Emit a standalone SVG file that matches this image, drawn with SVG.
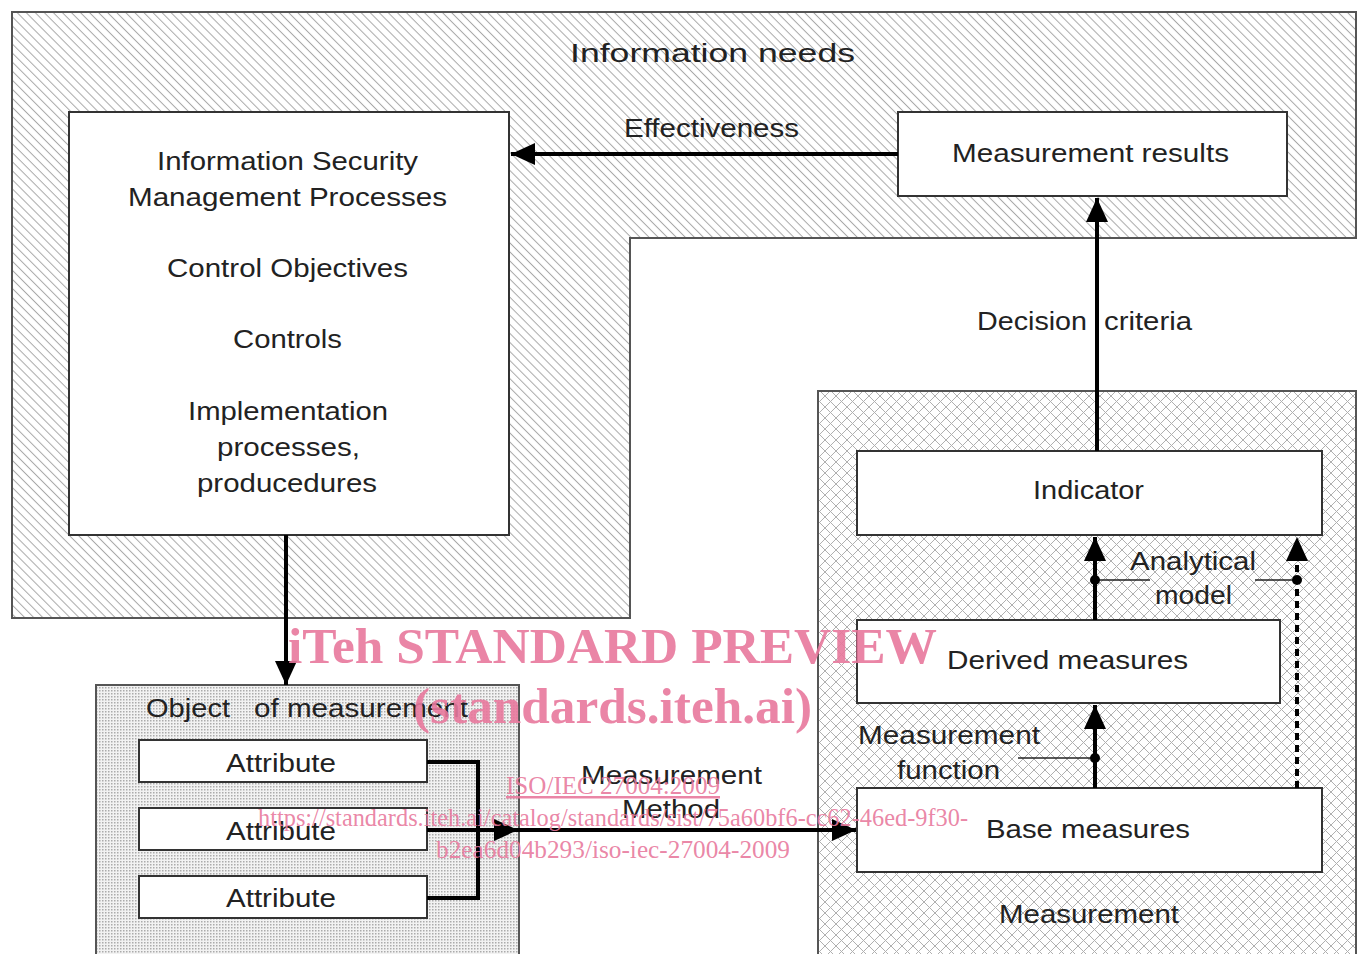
<svg xmlns="http://www.w3.org/2000/svg" width="1362" height="954" viewBox="0 0 1362 954">
<style>
.t{font-family:"Liberation Sans",Arial,sans-serif;font-size:25px;fill:#222}
.box{fill:#fff;stroke:#333;stroke-width:2}
.reg{stroke:#555;stroke-width:2}
.arr{stroke:#000;stroke-width:4;fill:none}
.wm{font-family:"Liberation Serif","Times New Roman",serif;fill:#e8789c;fill-opacity:0.9}
</style>
<defs>
<pattern id="hatch" patternUnits="userSpaceOnUse" width="12" height="6.4" patternTransform="rotate(45)">
<rect width="12" height="6.4" fill="#fff"/>
<line x1="0" y1="3.2" x2="12" y2="3.2" stroke="#a8a8a8" stroke-width="1"/>
</pattern>
<pattern id="cross" patternUnits="userSpaceOnUse" width="11" height="11">
<rect width="11" height="11" fill="#fff"/>
<path d="M0 0L11 11M11 0L0 11" stroke="#b0b0b0" stroke-width="1"/>
</pattern>
<pattern id="dots" patternUnits="userSpaceOnUse" width="3" height="3">
<rect width="3" height="3" fill="#f2f2f2"/>
<rect width="1.5" height="1.5" fill="#ababab"/>
</pattern>
<marker id="ah" markerUnits="userSpaceOnUse" markerWidth="26" markerHeight="22" refX="24" refY="11" orient="auto">
<path d="M0 0L24 11L0 22Z" fill="#000"/>
</marker>
</defs>
<rect width="1362" height="954" fill="#fff"/>

<g id="information-needs">
<path class="reg" d="M12 12H1356V238H630V618H12Z" fill="url(#hatch)"/>
<text class="t" x="570" y="62" font-size="30" textLength="285" lengthAdjust="spacingAndGlyphs">Information needs</text>
</g>

<g id="measurement-region">
<rect class="reg" x="818" y="391" width="538" height="570" fill="url(#cross)"/>
<text class="t" x="999" y="923" textLength="180" lengthAdjust="spacingAndGlyphs">Measurement</text>
</g>

<g id="object-of-measurement">
<rect class="reg" x="96" y="685" width="423" height="280" fill="url(#dots)"/>
<text class="t" y="717"><tspan x="146" textLength="84" lengthAdjust="spacingAndGlyphs">Object</tspan> <tspan x="254" textLength="214" lengthAdjust="spacingAndGlyphs">of measurement</tspan></text>
</g>

<g id="ismp">
<rect class="box" x="69" y="112" width="440" height="423"/>
<text class="t" x="157" y="170" textLength="261" lengthAdjust="spacingAndGlyphs">Information Security</text>
<text class="t" x="128" y="206" textLength="319" lengthAdjust="spacingAndGlyphs">Management Processes</text>
<text class="t" x="167" y="277" textLength="241" lengthAdjust="spacingAndGlyphs">Control Objectives</text>
<text class="t" x="233" y="348" textLength="109" lengthAdjust="spacingAndGlyphs">Controls</text>
<text class="t" x="188" y="420" textLength="200" lengthAdjust="spacingAndGlyphs">Implementation</text>
<text class="t" x="217" y="456" textLength="143" lengthAdjust="spacingAndGlyphs">processes,</text>
<text class="t" x="197" y="492" textLength="180" lengthAdjust="spacingAndGlyphs">producedures</text>
</g>

<g id="measurement-results">
<rect class="box" x="898" y="112" width="389" height="84"/>
<text class="t" x="952" y="162" textLength="277" lengthAdjust="spacingAndGlyphs">Measurement results</text>
</g>

<g id="indicator">
<rect class="box" x="857" y="451" width="465" height="84"/>
<text class="t" x="1033" y="499" textLength="111" lengthAdjust="spacingAndGlyphs">Indicator</text>
</g>

<g id="derived-measures">
<rect class="box" x="857" y="620" width="423" height="83"/>
<text class="t" x="947" y="669" textLength="241" lengthAdjust="spacingAndGlyphs">Derived measures</text>
</g>

<g id="base-measures">
<rect class="box" x="857" y="788" width="465" height="84"/>
<text class="t" x="986" y="838" textLength="204" lengthAdjust="spacingAndGlyphs">Base measures</text>
</g>

<g id="attribute-1">
<rect class="box" x="139" y="740" width="288" height="42"/>
<text class="t" x="226" y="772" textLength="110" lengthAdjust="spacingAndGlyphs">Attribute</text>
</g>
<g id="attribute-2">
<rect class="box" x="139" y="808" width="288" height="42"/>
<text class="t" x="226" y="840" textLength="110" lengthAdjust="spacingAndGlyphs">Attribute</text>
</g>
<g id="attribute-3">
<rect class="box" x="139" y="876" width="288" height="42"/>
<text class="t" x="226" y="907" textLength="110" lengthAdjust="spacingAndGlyphs">Attribute</text>
</g>

<g id="connectors">
<line class="arr" x1="898" y1="154" x2="511" y2="154" marker-end="url(#ah)"/>
<text class="t" x="624" y="137" textLength="175" lengthAdjust="spacingAndGlyphs">Effectiveness</text>

<line class="arr" x1="1097" y1="451" x2="1097" y2="198" marker-end="url(#ah)"/>
<text class="t" y="330"><tspan x="977" textLength="110" lengthAdjust="spacingAndGlyphs">Decision</tspan> <tspan x="1104" textLength="88" lengthAdjust="spacingAndGlyphs">criteria</tspan></text>

<line class="arr" x1="286" y1="535" x2="286" y2="685" marker-end="url(#ah)"/>

<path class="arr" d="M427 762H478V898H427M427 830H478"/>
<line class="arr" x1="478" y1="830" x2="518" y2="830" marker-end="url(#ah)"/>
<line class="arr" x1="518" y1="830" x2="856" y2="830" marker-end="url(#ah)"/>
<text class="t" x="581" y="784" textLength="181" lengthAdjust="spacingAndGlyphs">Measurement</text>
<text class="t" x="622" y="818" textLength="98" lengthAdjust="spacingAndGlyphs">Method</text>

<line class="arr" x1="1095" y1="620" x2="1095" y2="537" marker-end="url(#ah)"/>
<line class="arr" x1="1297" y1="788" x2="1297" y2="537" stroke-dasharray="7 5" marker-end="url(#ah)"/>
<path d="M1095 580H1150M1255 580H1297" stroke="#222" stroke-width="1.5" fill="none"/>
<circle cx="1095" cy="580" r="5" fill="#000"/>
<circle cx="1297" cy="580" r="5" fill="#000"/>
<text class="t" x="1130" y="570" textLength="126" lengthAdjust="spacingAndGlyphs">Analytical</text>
<text class="t" x="1155" y="604" textLength="77" lengthAdjust="spacingAndGlyphs">model</text>

<line class="arr" x1="1095" y1="788" x2="1095" y2="705" marker-end="url(#ah)"/>
<path d="M1018 758H1095" stroke="#222" stroke-width="1.5" fill="none"/>
<circle cx="1095" cy="758" r="5" fill="#000"/>
<text class="t" x="858" y="744" textLength="182" lengthAdjust="spacingAndGlyphs">Measurement</text>
<text class="t" x="897" y="779" textLength="103" lengthAdjust="spacingAndGlyphs">function</text>
</g>

<g id="watermark">
<text class="wm" x="288" y="663" font-size="51" font-weight="bold" textLength="649" lengthAdjust="spacingAndGlyphs">iTeh STANDARD PREVIEW</text>
<text class="wm" x="413" y="723" font-size="51" font-weight="bold" textLength="399" lengthAdjust="spacingAndGlyphs">(standards.iteh.ai)</text>
<text class="wm" x="506" y="794" font-size="25" text-decoration="underline" textLength="214" lengthAdjust="spacingAndGlyphs">ISO/IEC 27004:2009</text>
<text class="wm" x="258" y="826" font-size="25" textLength="710" lengthAdjust="spacingAndGlyphs">https://standards.iteh.ai/catalog/standards/sist/75a60bf6-cc62-46ed-9f30-</text>
<text class="wm" x="436" y="858" font-size="25" textLength="354" lengthAdjust="spacingAndGlyphs">b2ea6d04b293/iso-iec-27004-2009</text>
</g>
</svg>
